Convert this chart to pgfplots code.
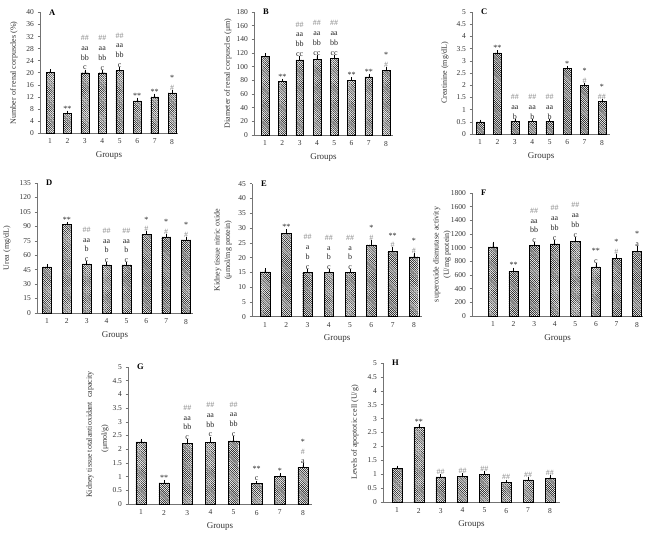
\documentclass[border=0pt]{standalone}
\usepackage{fontspec}
\setmainfont{Liberation Serif}
\usepackage{pgfplots}
\pgfplotsset{compat=1.18}
\usetikzlibrary{patterns.meta}

\definecolor{axgray}{gray}{0.45}
\definecolor{anngray}{gray}{0.55}
\newcommand{\g}[1]{\textcolor{anngray}{#1}}
\newcommand{\ann}[3]{\node[anchor=south, inner sep=1pt, align=center, font=\fontsize{8}{9.8}\selectfont, text=black!85] at (axis cs:#1,#2) {#3};}
\newcommand{\panel}[1]{\node[font=\bfseries\fontsize{8.5}{9}\selectfont, anchor=west, inner sep=0pt] at ([xshift=9pt]rel axis cs:0,1) {#1};}

\pgfplotsset{
  panel/.style={
    scale only axis, anchor=south west, clip=false,
    axis lines=left, axis line style={-, draw=axgray, line width=0.6pt},
    ymin=0, ybar, bar width=0.45,
    xtick={1,...,8}, xtick style={draw=none},
    ytick style={draw=axgray, line width=0.5pt}, tick align=outside, major tick length=2.5pt,
    tick label style={font=\fontsize{7.5}{8}\selectfont, text=black!80},
    /pgf/number format/assume math mode=true,
    /pgf/number format/1000 sep={},
    scaled y ticks=false,
    xlabel={Groups},
    xlabel style={at={([yshift=-22pt]axis description cs:0.5,0)}, anchor=center, font=\fontsize{9}{10}\selectfont, text=black!80},
    ylabel style={anchor=center, align=center, font=\fontsize{8}{10.5}\selectfont, text=black!80},
  },
  ylab/.style={ylabel style={at={([xshift=#1]axis description cs:0,0.5)}}},
  mybar/.style={draw=black, line width=0.4pt, fill=white,
    pattern={Lines[angle=-45,distance=1.5pt,line width=0.5pt]}, pattern color=black,
    error bars/.cd, y dir=plus, y explicit,
    error bar style={black, line width=0.5pt},
    error mark options={black, line width=0.5pt, mark size=1.6pt}},
}

\begin{document}
\begin{tikzpicture}
\useasboundingbox (0,0) rectangle (645pt,533pt);

% ---------------- A ----------------
\begin{axis}[panel, at={(40pt,400pt)}, width=138pt, height=120.5pt,
  xmin=0.43, xmax=8.34, ymax=40, ytick distance=4, ylab=-26pt,
  ylabel={Number of renal corpuscles (\%)}]
\addplot[mybar] coordinates {(1,20.2) +- (0,0.4) (2,6.5) +- (0,0.4) (3,20.0) +- (0,0.5) (4,20.0) +- (0,0.4)
  (5,20.8) +- (0,0.5) (6,10.7) +- (0,0.5) (7,12.0) +- (0,0.5) (8,13.3) +- (0,0.4)};
\panel{A}
\ann{2}{6.9}{**}
\ann{3}{20.5}{\g{\#\#}\\aa\\bb\\c}
\ann{4}{20.4}{\g{\#\#}\\aa\\bb\\c}
\ann{5}{21.3}{\g{\#\#}\\aa\\bb\\c}
\ann{6}{11.2}{**}
\ann{7}{12.5}{**}
\ann{8}{13.7}{*\\\g{\#}}
\end{axis}

% ---------------- B ----------------
\begin{axis}[panel, at={(254pt,398pt)}, width=139pt, height=123pt,
  xmin=0.36, xmax=8.40, ymax=180, ytick distance=20, ylab=-26pt,
  ylabel={Diameter of renal corpuscles (μm)}]
\addplot[mybar] coordinates {(1,115) +- (0,3) (2,78) +- (0,2) (3,110) +- (0,3) (4,111) +- (0,4)
  (5,112) +- (0,3) (6,80) +- (0,2) (7,85) +- (0,2) (8,95) +- (0,2)};
\panel{B}
\ann{2}{80}{**}
\ann{3}{113}{\g{\#\#}\\aa\\bb\\cc}
\ann{4}{115}{\g{\#\#}\\aa\\bb\\cc}
\ann{5}{115}{\g{\#\#}\\aa\\bb\\cc}
\ann{6}{82}{**}
\ann{7}{87}{**}
\ann{8}{97}{*\\\g{\#}}
\end{axis}

% ---------------- C ----------------
\begin{axis}[panel, at={(472pt,399pt)}, width=138pt, height=122pt,
  xmin=0.54, xmax=8.46, ymax=5, ytick distance=0.5, ylab=-27pt,
  ylabel={Creatinine (mg/dL)}]
\addplot[mybar] coordinates {(1,0.50) +- (0,0.02) (2,3.32) +- (0,0.05) (3,0.53) +- (0,0.03) (4,0.52) +- (0,0.02)
  (5,0.52) +- (0,0.02) (6,2.70) +- (0,0.03) (7,2.00) +- (0,0.03) (8,1.33) +- (0,0.03)};
\panel{C}
\ann{2}{3.37}{**}
\ann{3}{0.56}{\g{\#\#}\\aa\\b}
\ann{4}{0.54}{\g{\#\#}\\aa\\b}
\ann{5}{0.54}{\g{\#\#}\\aa\\b}
\ann{6}{2.73}{*}
\ann{7}{2.03}{*\\\g{\#}}
\ann{8}{1.36}{*\\\g{\#\#}}
\end{axis}

% ---------------- D ----------------
\begin{axis}[panel, at={(37pt,220pt)}, width=156pt, height=130pt,
  xmin=0.5, xmax=8.35, ymax=135, ytick distance=15, ylab=-30pt,
  ylabel={Urea (mg/dL)}]
\addplot[mybar] coordinates {(1,48) +- (0,1) (2,92) +- (0,1) (3,51) +- (0,1) (4,50) +- (0,1)
  (5,50) +- (0,1) (6,82) +- (0,1) (7,79) +- (0,1) (8,76) +- (0,1)};
\panel{D}
\ann{2}{93}{**}
\ann{3}{52}{\g{\#\#}\\aa\\b\\c}
\ann{4}{51}{\g{\#\#}\\aa\\b\\c}
\ann{5}{51}{\g{\#\#}\\aa\\b\\c}
\ann{6}{83}{*\\\g{\#}}
\ann{7}{80}{*\\\g{\#}}
\ann{8}{77}{*\\\g{\#}}
\end{axis}

% ---------------- E ----------------
\begin{axis}[panel, at={(252pt,216.3pt)}, width=170pt, height=133pt,
  xmin=0.39, xmax=8.38, ymax=45, ytick distance=5, ylab=-29pt,
  ylabel={Kidney tissue nitric oxide\\(μmol/mg protein)}]
\addplot[mybar] coordinates {(1,15.2) +- (0,0.6) (2,28.2) +- (0,0.9) (3,15.1) +- (0,0.5) (4,14.9) +- (0,0.6)
  (5,14.9) +- (0,0.6) (6,24.3) +- (0,1.0) (7,22.0) +- (0,0.9) (8,20.2) +- (0,0.9)};
\panel{E}
\ann{2}{29.1}{**}
\ann{3}{15.6}{\g{\#\#}\\a\\b\\c}
\ann{4}{15.5}{\g{\#\#}\\a\\b\\c}
\ann{5}{15.5}{\g{\#\#}\\a\\b\\c}
\ann{6}{25.3}{*\\\g{\#}}
\ann{7}{22.9}{**\\\g{\#}}
\ann{8}{21.1}{*\\\g{\#}}
\end{axis}

% ---------------- F ----------------
\begin{axis}[panel, at={(472pt,217pt)}, width=171pt, height=123pt,
  xmin=-0.02, xmax=8.29, ymax=1800, ytick distance=200, ylab=-30pt,
  ylabel={superoxide dismutase activity\\(U/mg protein)}]
\addplot[mybar] coordinates {(1,1010) +- (0,55) (2,650) +- (0,35) (3,1030) +- (0,25) (4,1055) +- (0,35)
  (5,1090) +- (0,45) (6,720) +- (0,30) (7,845) +- (0,40) (8,950) +- (0,55)};
\panel{F}
\ann{2}{685}{**}
\ann{3}{1055}{\g{\#\#}\\aa\\bb\\c}
\ann{4}{1090}{\g{\#\#}\\aa\\bb\\c}
\ann{5}{1135}{\g{\#\#}\\aa\\bb\\c}
\ann{6}{750}{**\\c}
\ann{7}{885}{*\\\g{\#}}
\ann{8}{1005}{*\\a}
\end{axis}

% ---------------- G ----------------
\begin{axis}[panel, at={(128pt,29pt)}, width=184pt, height=137pt,
  xmin=0.44, xmax=8.39, ymax=5, ytick distance=0.5,
  ylabel style={at={([xshift=-38pt,yshift=1pt]axis description cs:0,0.5)}},
  ylabel={Kidney tissue totalantioxidant\ \ capacity}]
\addplot[mybar] coordinates {(1,2.27) +- (0,0.05) (2,0.77) +- (0,0.05) (3,2.22) +- (0,0.08) (4,2.25) +- (0,0.15)
  (5,2.30) +- (0,0.12) (6,0.75) +- (0,0.03) (7,1.00) +- (0,0.07) (8,1.35) +- (0,0.07)};
\panel{G}
\node[rotate=90, font=\fontsize{8}{10.5}\selectfont, text=black!80] at ([xshift=-23pt,yshift=-3pt]axis description cs:0,0.5) {(μmol/g)};
\ann{2}{0.82}{**}
\ann{3}{2.30}{\g{\#\#}\\aa\\bb\\c}
\ann{4}{2.40}{\g{\#\#}\\aa\\bb\\c}
\ann{5}{2.42}{\g{\#\#}\\aa\\bb\\c}
\ann{6}{0.80}{**\\c}
\ann{7}{1.07}{*}
\ann{8}{1.42}{*\\\g{\#}\\a}
\end{axis}

% ---------------- H ----------------
\begin{axis}[panel, at={(383pt,31pt)}, width=177pt, height=139pt,
  xmin=0.36, xmax=8.46, ymax=5, ytick distance=0.5, ylab=-28pt,
  ylabel={Levels of apoptotic cell (U/g)}]
\addplot[mybar] coordinates {(1,1.20) +- (0,0.05) (2,2.68) +- (0,0.08) (3,0.90) +- (0,0.04) (4,0.92) +- (0,0.08)
  (5,1.00) +- (0,0.05) (6,0.70) +- (0,0.05) (7,0.80) +- (0,0.03) (8,0.86) +- (0,0.04)};
\panel{H}
\ann{2}{2.76}{**}
\ann{3}{0.94}{\g{\#\#}}
\ann{4}{1.00}{\g{\#\#}}
\ann{5}{1.05}{\g{\#\#}}
\ann{6}{0.75}{\g{\#\#}}
\ann{7}{0.83}{\g{\#\#}}
\ann{8}{0.90}{\g{\#\#}}
\end{axis}
\end{tikzpicture}
\end{document}
